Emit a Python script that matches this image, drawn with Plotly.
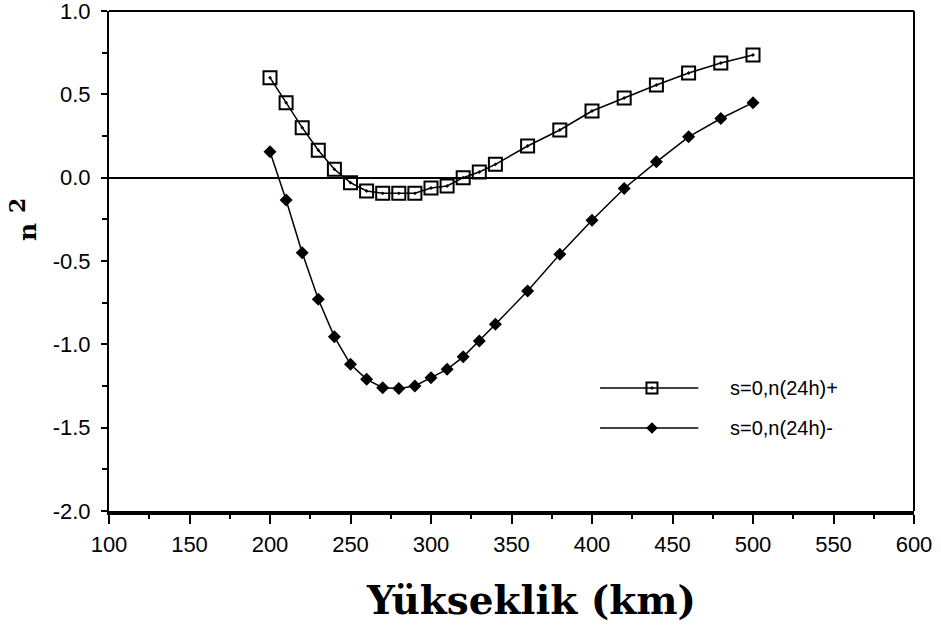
import plotly.graph_objects as go

# Altitude (km) and n^2 values for the two branches
altitude = [200, 210, 220, 230, 240, 250, 260, 270, 280, 290, 300, 310, 320,
            330, 340, 360, 380, 400, 420, 440, 460, 480, 500]
n2_plus = [0.60, 0.45, 0.30, 0.165, 0.05, -0.03, -0.08, -0.094, -0.094, -0.094,
           -0.062, -0.05, 0.0, 0.034, 0.08, 0.19, 0.286, 0.40, 0.478, 0.556,
           0.628, 0.688, 0.736]
n2_minus = [0.155, -0.134, -0.45, -0.73, -0.955, -1.12, -1.21, -1.26, -1.265,
            -1.25, -1.20, -1.15, -1.075, -0.98, -0.88, -0.68, -0.46, -0.255,
            -0.065, 0.095, 0.245, 0.355, 0.45]

series_names = ["s=0,n(24h)+", "s=0,n(24h)-"]

x_ticks = [100, 150, 200, 250, 300, 350, 400, 450, 500, 550, 600]
y_ticks = [-2.0, -1.5, -1.0, -0.5, 0.0, 0.5, 1.0]
y_tick_text = ["-2.0", "-1.5", "-1.0", "-0.5", "0.0", "0.5", "1.0"]

W, H = 941, 626
ML, MR, MT, MB = 109, 27, 11, 115
PW, PH = W - ML - MR, H - MT - MB

TICK_FONT = dict(family="Liberation Sans, Arial, sans-serif", size=22, color="black")
TITLE_FONT = "DejaVu Serif, serif"


def px_to_paper(px, py):
    """Convert page pixel position to paper coordinates."""
    return (px - ML) / PW, (H - MB - py) / PH


fig = go.Figure()

fig.add_trace(go.Scatter(
    x=altitude, y=n2_plus, mode="lines+markers", name=series_names[0],
    line=dict(color="black", width=1.5),
    marker=dict(symbol="square-open-dot", size=13, color="black",
                line=dict(width=2, color="black")),
    showlegend=False,
))
fig.add_trace(go.Scatter(
    x=altitude, y=n2_minus, mode="lines+markers", name=series_names[1],
    line=dict(color="black", width=1.5),
    marker=dict(symbol="diamond", size=10, color="black"),
    showlegend=False,
))

# Hand-drawn legend inside the plot area (long sample lines, centred markers)
legend_rows = [0.246, 0.166]
legend_x0, legend_x1, legend_xm, legend_tx = 0.61, 0.732, 0.6745, 0.769
legend_symbols = [("square-open-dot", 11, 2), ("diamond", 9, 0)]
for row_y, name, (sym, size, lw) in zip(legend_rows, series_names, legend_symbols):
    fig.add_shape(type="line", xref="paper", yref="paper",
                  x0=legend_x0, x1=legend_x1, y0=row_y, y1=row_y,
                  line=dict(color="black", width=1.5))
    fig.add_trace(go.Scatter(
        x=[legend_xm], y=[row_y], xaxis="x2", yaxis="y2", mode="markers",
        marker=dict(symbol=sym, size=size, color="black",
                    line=dict(width=lw, color="black")),
        showlegend=False, hoverinfo="skip",
    ))
    fig.add_annotation(xref="paper", yref="paper", x=legend_tx, y=row_y,
                       text=name, showarrow=False, xanchor="left", yanchor="middle",
                       font=dict(family="Liberation Sans, Arial, sans-serif",
                                 size=20, color="black"))

# Frame: top and right borders
fig.add_shape(type="line", xref="paper", yref="paper", x0=0, x1=1, y0=1, y1=1,
              line=dict(color="black", width=2))
fig.add_shape(type="line", xref="paper", yref="paper", x0=1, x1=1, y0=0, y1=1,
              line=dict(color="black", width=2))

# Axis titles
tx, ty = px_to_paper(531, 600)
fig.add_annotation(xref="paper", yref="paper", x=tx, y=ty,
                   text="<b>Yükseklik (km)</b>", showarrow=False,
                   xanchor="center", yanchor="middle",
                   font=dict(family=TITLE_FONT, size=39, color="black"))
nx, ny = px_to_paper(28, 232)
fig.add_annotation(xref="paper", yref="paper", x=nx, y=ny, text="<b>n</b>",
                   textangle=-90, showarrow=False, xanchor="center", yanchor="middle",
                   font=dict(family=TITLE_FONT, size=25, color="black"))
sx, sy = px_to_paper(17, 206)
fig.add_annotation(xref="paper", yref="paper", x=sx, y=sy, text="<b>2</b>",
                   textangle=-90, showarrow=False, xanchor="center", yanchor="middle",
                   font=dict(family=TITLE_FONT, size=22, color="black"))

fig.update_layout(
    width=W, height=H,
    margin=dict(l=ML, r=MR, t=MT, b=MB, autoexpand=False),
    paper_bgcolor="white", plot_bgcolor="white",
    showlegend=False,
    xaxis=dict(range=[100, 600], tickvals=x_ticks, showgrid=False, zeroline=False,
               showline=True, linecolor="black", linewidth=4, automargin=False,
               ticks="outside", ticklen=9, tickwidth=2, tickcolor="black",
               minor=dict(dtick=25, ticks="outside", ticklen=4, tickwidth=1.5,
                          tickcolor="black", showgrid=False),
               tickfont=TICK_FONT, ticklabelstandoff=2),
    yaxis=dict(range=[-2, 1], tickvals=y_ticks, ticktext=y_tick_text,
               showgrid=False, zeroline=True, zerolinecolor="black", zerolinewidth=2,
               showline=True, linecolor="black", linewidth=2, automargin=False,
               ticks="outside", ticklen=6, tickwidth=2, tickcolor="black",
               minor=dict(dtick=0.25, ticks="outside", ticklen=5, tickwidth=1.5,
                          tickcolor="black", showgrid=False),
               tickfont=TICK_FONT, ticklabelstandoff=6,
               ticklabeloverflow="allow"),
    xaxis2=dict(range=[0, 1], overlaying="x", visible=False),
    yaxis2=dict(range=[0, 1], overlaying="y", visible=False),
)

fig.write_html("out.html")
